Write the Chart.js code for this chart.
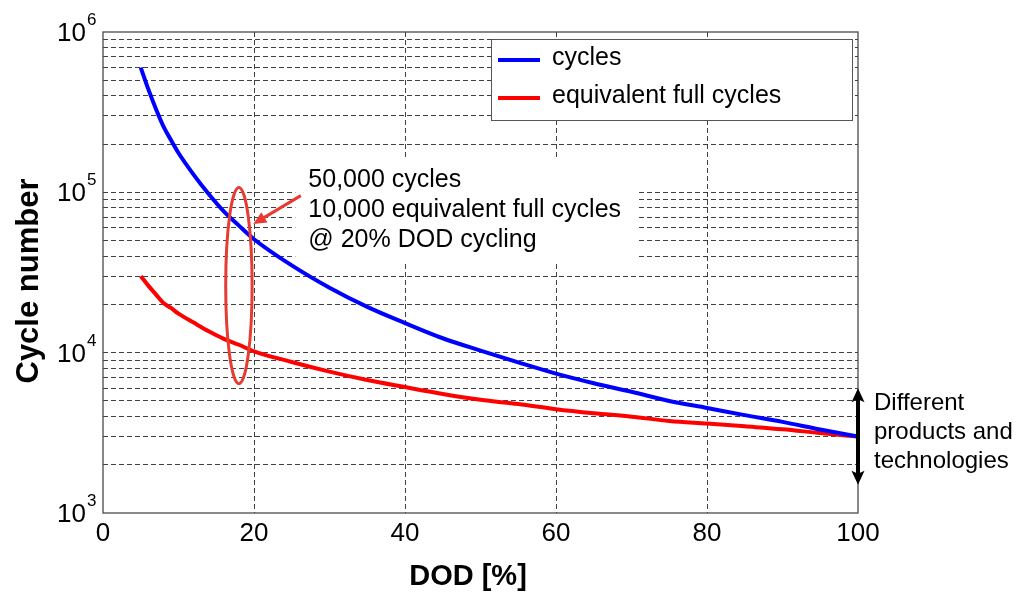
<!DOCTYPE html>
<html>
<head>
<meta charset="utf-8">
<script src="https://cdn.jsdelivr.net/npm/chart.js@4.4.0/dist/chart.umd.min.js"></script>
<style>
    html, body { margin: 0; padding: 0; background: #fff; }
    canvas { display: block; }
</style>
</head>
<body>
<canvas id="chart" width="1024" height="592"></canvas>
<script>
(function () {
    'use strict';

    // depth of discharge [%]
    var dod = [5, 6, 7, 8, 9, 10, 12, 14, 16, 18, 20, 25, 30, 35, 40, 45, 50, 55, 60, 65, 70, 75, 80, 85, 90, 95, 100];
    // cycle life at each DOD
    var cycles = [600000, 440000, 332000, 258000, 212000, 176000, 129000, 97500, 76000, 62000, 51000, 35000, 25400,
        19300, 15300, 12300, 10300, 8700, 7400, 6450, 5700, 5000, 4520, 4080, 3700, 3320, 3000];
    // same cycle life expressed as equivalent full cycles
    var fullCycles = [30000, 26200, 23100, 20400, 19000, 17500, 15400, 13600, 12200, 11200, 10200, 8750, 7620,
        6750, 6100, 5530, 5080, 4780, 4440, 4190, 3990, 3750, 3610, 3470, 3330, 3150, 3000];

    var seriesLabels = ['cycles', 'equivalent full cycles'];
    var seriesColors = ['#0000ff', '#ff0000'];
    var xTicks = [0, 20, 40, 60, 80, 100];
    var decades = [3, 4, 5, 6];
    var noteLines = ['50,000 cycles', '10,000 equivalent full cycles', '@ 20% DOD cycling'];
    var rangeLines = ['Different', 'products and', 'technologies'];

    var FONT = '"Liberation Sans", Arial, sans-serif';
    var NOTE_RED = '#e63c32';

    var yGrid = [];
    decades.forEach(function (e, i) {
        var base = Math.pow(10, e);
        var top = i === decades.length - 1 ? 1 : 9;
        for (var m = 1; m <= top; m++) {
            yGrid.push(m * base);
        }
    });

    function points(ys) {
        var out = [];
        for (var i = 0; i < dod.length; i++) {
            out.push({x: dod[i], y: ys[i]});
        }
        return out;
    }

    // filled head at (x1,y1) pointing away from (x0,y0); notch > 0 gives a barbed head
    function arrowHead(ctx, x0, y0, x1, y1, len, half, notch) {
        var a = Math.atan2(y1 - y0, x1 - x0);
        var c = Math.cos(a), s = Math.sin(a);
        ctx.beginPath();
        ctx.moveTo(x1, y1);
        ctx.lineTo(x1 - len * c + half * s, y1 - len * s - half * c);
        ctx.lineTo(x1 - (len - notch) * c, y1 - (len - notch) * s);
        ctx.lineTo(x1 - len * c - half * s, y1 - len * s + half * c);
        ctx.closePath();
        ctx.fill();
    }

    var notePos = {x: 27.2, y: 120000, lineGap: 30};

    // white panel behind the note so the grid does not run through the text
    var noteBackground = {
        id: 'noteBackground',
        beforeDatasetsDraw: function (chart) {
            var ctx = chart.ctx, xs = chart.scales.x, ys = chart.scales.y;
            ctx.save();
            ctx.font = '25px ' + FONT;
            var w = 0;
            noteLines.forEach(function (t) { w = Math.max(w, ctx.measureText(t).width); });
            var left = xs.getPixelForValue(notePos.x);
            var top = ys.getPixelForValue(notePos.y);
            ctx.fillStyle = '#fff';
            ctx.fillRect(left - 13, top - 20, w + 30, notePos.lineGap * (noteLines.length - 1) + 42);
            ctx.restore();
        }
    };

    var decorations = {
        id: 'decorations',
        afterDatasetsDraw: function (chart) {
            var ctx = chart.ctx, xs = chart.scales.x, ys = chart.scales.y, area = chart.chartArea;
            var i;
            ctx.save();

            // ellipse around the 20 % DOD points
            var cx = xs.getPixelForValue(18);
            var yt = ys.getPixelForValue(107000), yb = ys.getPixelForValue(6400);
            ctx.strokeStyle = NOTE_RED;
            ctx.lineWidth = 3;
            ctx.beginPath();
            ctx.ellipse(cx, (yt + yb) / 2, xs.getPixelForValue(19.75) - cx, (yb - yt) / 2, 0, 0, Math.PI * 2);
            ctx.stroke();

            // pointer from the note
            var tx = xs.getPixelForValue(26.2), ty = ys.getPixelForValue(95400);
            var hx = xs.getPixelForValue(19.9), hy = ys.getPixelForValue(63400);
            ctx.beginPath();
            ctx.moveTo(tx, ty);
            ctx.lineTo(hx + (tx - hx) * 0.2, hy + (ty - hy) * 0.2);
            ctx.stroke();
            ctx.fillStyle = NOTE_RED;
            arrowHead(ctx, tx, ty, hx, hy, 13, 6, 0);

            // note text
            ctx.fillStyle = '#000';
            ctx.font = '25px ' + FONT;
            ctx.textAlign = 'left';
            ctx.textBaseline = 'middle';
            var nx = xs.getPixelForValue(notePos.x), ny = ys.getPixelForValue(notePos.y);
            for (i = 0; i < noteLines.length; i++) {
                ctx.fillText(noteLines[i], nx, ny + i * notePos.lineGap);
            }

            // legend box
            var lx = area.right - 367, ly = area.top + 7;
            ctx.fillStyle = '#fff';
            ctx.fillRect(lx, ly, 361, 81);
            ctx.strokeStyle = '#555';
            ctx.lineWidth = 1;
            ctx.strokeRect(lx + 0.5, ly + 0.5, 361, 81);
            ctx.font = '25px ' + FONT;
            ctx.textBaseline = 'middle';
            chart.data.datasets.forEach(function (ds, k) {
                var rowY = ly + 21 + k * 38;
                ctx.strokeStyle = ds.borderColor;
                ctx.lineWidth = 4;
                ctx.beginPath();
                ctx.moveTo(lx + 7, rowY);
                ctx.lineTo(lx + 49, rowY);
                ctx.stroke();
                ctx.fillStyle = '#000';
                ctx.fillText(ds.label, lx + 61, rowY - 2);
            });

            // plot frame
            ctx.strokeStyle = '#4a4a4a';
            ctx.lineWidth = 1.3;
            ctx.strokeRect(area.left, area.top, area.right - area.left, area.bottom - area.top);

            // decade labels on the y axis
            ctx.fillStyle = '#000';
            decades.forEach(function (e) {
                var py = ys.getPixelForValue(Math.pow(10, e));
                ctx.textAlign = 'right';
                ctx.textBaseline = 'alphabetic';
                ctx.font = '26px ' + FONT;
                ctx.fillText('10', area.left - 17, py + 9);
                ctx.textAlign = 'left';
                ctx.font = '17px ' + FONT;
                ctx.fillText(String(e), area.left - 16, py - 7);
            });

            // axis titles
            ctx.font = 'bold 29px ' + FONT;
            ctx.textAlign = 'center';
            ctx.textBaseline = 'alphabetic';
            ctx.fillText('DOD [%]', 468, 585);
            ctx.save();
            ctx.translate(38, 281);
            ctx.rotate(-Math.PI / 2);
            ctx.font = 'bold 31px ' + FONT;
            ctx.fillText('Cycle number', 0, 0);
            ctx.restore();

            // spread between products at 100 % DOD
            var rx = xs.getPixelForValue(100);
            var r0 = ys.getPixelForValue(6000), r1 = ys.getPixelForValue(1500);
            ctx.strokeStyle = '#000';
            ctx.fillStyle = '#000';
            ctx.lineWidth = 4;
            ctx.beginPath();
            ctx.moveTo(rx, r0 + 10);
            ctx.lineTo(rx, r1 - 10);
            ctx.stroke();
            arrowHead(ctx, rx, r1, rx, r0, 14, 6.5, 3);
            arrowHead(ctx, rx, r0, rx, r1, 14, 6.5, 3);
            ctx.font = '24px ' + FONT;
            ctx.textAlign = 'left';
            ctx.textBaseline = 'middle';
            for (i = 0; i < rangeLines.length; i++) {
                ctx.fillText(rangeLines[i], rx + 16, (r0 + r1) / 2 - 33 + i * 29);
            }

            ctx.restore();
        }
    };

    function gridColor(edgeValues) {
        return function (c) {
            if (c.tick && edgeValues.indexOf(c.tick.value) !== -1) {
                return 'rgba(0,0,0,0)';
            }
            return 'rgba(30,30,30,0.85)';
        };
    }

    new Chart(document.getElementById('chart'), {
        type: 'line',
        data: {
            datasets: [
                {
                    label: seriesLabels[0],
                    data: points(cycles),
                    borderColor: seriesColors[0],
                    borderWidth: 4,
                    pointRadius: 0,
                    cubicInterpolationMode: 'monotone',
                    fill: false
                },
                {
                    label: seriesLabels[1],
                    data: points(fullCycles),
                    borderColor: seriesColors[1],
                    borderWidth: 4,
                    pointRadius: 0,
                    cubicInterpolationMode: 'monotone',
                    fill: false
                }
            ]
        },
        options: {
            responsive: false,
            animation: false,
            layout: {padding: {top: 32, right: 166, left: 0, bottom: 0}},
            plugins: {
                legend: {display: false},
                tooltip: {enabled: false}
            },
            scales: {
                x: {
                    type: 'linear',
                    min: 0,
                    max: 100,
                    afterBuildTicks: function (scale) {
                        scale.ticks = xTicks.map(function (v) { return {value: v}; });
                    },
                    afterFit: function (scale) { scale.height = 79; },
                    ticks: {
                        color: '#000',
                        font: {family: FONT, size: 26},
                        padding: 5,
                        maxRotation: 0,
                        autoSkip: false
                    },
                    grid: {color: gridColor([0, 100]), lineWidth: 1, drawTicks: false},
                    border: {display: false, dash: [5, 3]}
                },
                y: {
                    type: 'logarithmic',
                    min: 1000,
                    max: 1000000,
                    afterBuildTicks: function (scale) {
                        scale.ticks = yGrid.map(function (v) { return {value: v}; });
                    },
                    afterFit: function (scale) { scale.width = 103; },
                    ticks: {display: false, autoSkip: false},
                    grid: {color: gridColor([1000, 1000000]), lineWidth: 1, drawTicks: false},
                    border: {display: false, dash: [5, 3]}
                }
            }
        },
        plugins: [noteBackground, decorations]
    });
})();
</script>
</body>
</html>
